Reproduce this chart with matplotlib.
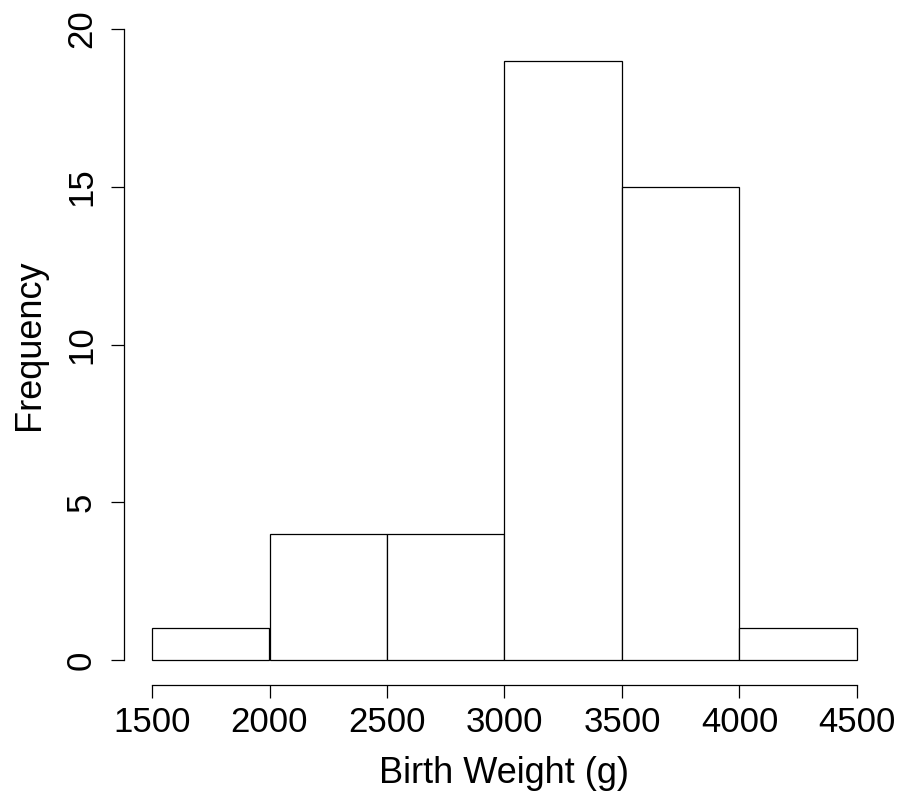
import matplotlib
matplotlib.use("Agg")
from matplotlib import pyplot as plt

# histogram of birth weights, R base-graphics look
bin_edges = [1500, 2000, 2500, 3000, 3500, 4000, 4500]
counts = [1, 4, 4, 19, 15, 1]
x_ticks = [1500, 2000, 2500, 3000, 3500, 4000, 4500]
y_ticks = [0, 5, 10, 15, 20]

W, H = 903, 797
PX = 0.72  # points per pixel at dpi 100
plt.rcParams["font.family"] = ["Liberation Sans", "DejaVu Sans"]

fig = plt.figure(figsize=(W / 100, H / 100), dpi=100)
ax = fig.add_axes([152 / W, (H - 660) / H, (857 - 152) / W, (660 - 29) / H])

widths = [b - a for a, b in zip(bin_edges[:-1], bin_edges[1:])]
bars = ax.bar(bin_edges[:-1], counts, width=widths, align="edge",
              facecolor="white", edgecolor="black", linewidth=0.9)
for b in bars:
    b.set_clip_on(False)

ax.set_xlim(bin_edges[0], bin_edges[-1])
ax.set_ylim(0, 20)
ax.set_xticks(x_ticks)
ax.set_yticks(y_ticks)

for s in ("top", "right"):
    ax.spines[s].set_visible(False)
ax.spines["left"].set_position(("outward", 28 * PX))
ax.spines["bottom"].set_position(("outward", 25 * PX))
ax.spines["left"].set_linewidth(0.9)
ax.spines["bottom"].set_linewidth(0.9)
ax.tick_params(axis="both", length=13 * PX, width=0.9, labelsize=25)
ax.tick_params(axis="x", pad=8 * PX)
ax.tick_params(axis="y", pad=13 * PX, labelrotation=90)
for t in ax.get_yticklabels():
    t.set_va("center")

ax.set_xlabel("Birth Weight (g)", fontsize=26, labelpad=12)
ax.set_ylabel("Frequency", fontsize=26, labelpad=13)

fig.savefig("out.png", dpi=100)
